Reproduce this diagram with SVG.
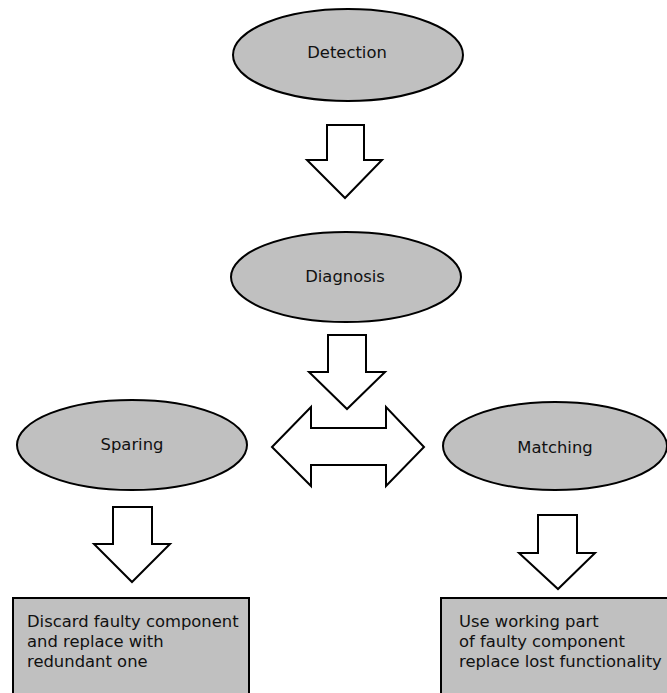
<svg xmlns="http://www.w3.org/2000/svg" width="667" height="693" viewBox="0 0 667 693">
<style>
.node{fill:#c0c0c0;stroke:#000;stroke-width:2}
.arr{fill:#fff;stroke:#000;stroke-width:2;stroke-linejoin:miter}
.lbl{font-family:"DejaVu Sans",sans-serif;font-size:16.4px;fill:#111}
.mid{text-anchor:middle}
</style>
<rect width="667" height="693" fill="#fff"/>
<g id="connectors">
<path class="arr" d="M327,125 H364 V160 H382 L345,198 L307,160 H327 Z"/>
<path class="arr" d="M328,335 H366 V372 H385 L347,409 L309,372 H328 Z"/>
<path class="arr" d="M272,447 L311,407 V428 H386 V407 L424,447 L386,486 V465 H311 V486 Z"/>
<path class="arr" d="M113,507 H152 V544 H170 L132,582 L94,544 H113 Z"/>
<path class="arr" d="M538,515 H577 V553 H595 L558,589 L519,553 H538 Z"/>
</g>
<g id="detection">
<ellipse class="node" cx="348" cy="55" rx="115" ry="46"/>
<text class="lbl mid" x="347" y="58">Detection</text>
</g>
<g id="diagnosis">
<ellipse class="node" cx="346" cy="277" rx="115" ry="45"/>
<text class="lbl mid" x="345" y="282">Diagnosis</text>
</g>
<g id="sparing">
<ellipse class="node" cx="132" cy="445" rx="115" ry="45"/>
<text class="lbl mid" x="132" y="450">Sparing</text>
</g>
<g id="matching">
<ellipse class="node" cx="555" cy="446" rx="112" ry="44"/>
<text class="lbl mid" x="555" y="453">Matching</text>
</g>
<g id="sparing-action">
<rect class="node" x="13" y="598" width="236" height="110"/>
<text class="lbl" x="27" y="627">Discard faulty component</text>
<text class="lbl" x="27" y="647">and replace with</text>
<text class="lbl" x="27" y="667">redundant one</text>
</g>
<g id="matching-action">
<rect class="node" x="441" y="598" width="240" height="110"/>
<text class="lbl" x="459" y="627">Use working part</text>
<text class="lbl" x="459" y="647">of faulty component</text>
<text class="lbl" x="459" y="667">replace lost functionality</text>
</g>
</svg>
